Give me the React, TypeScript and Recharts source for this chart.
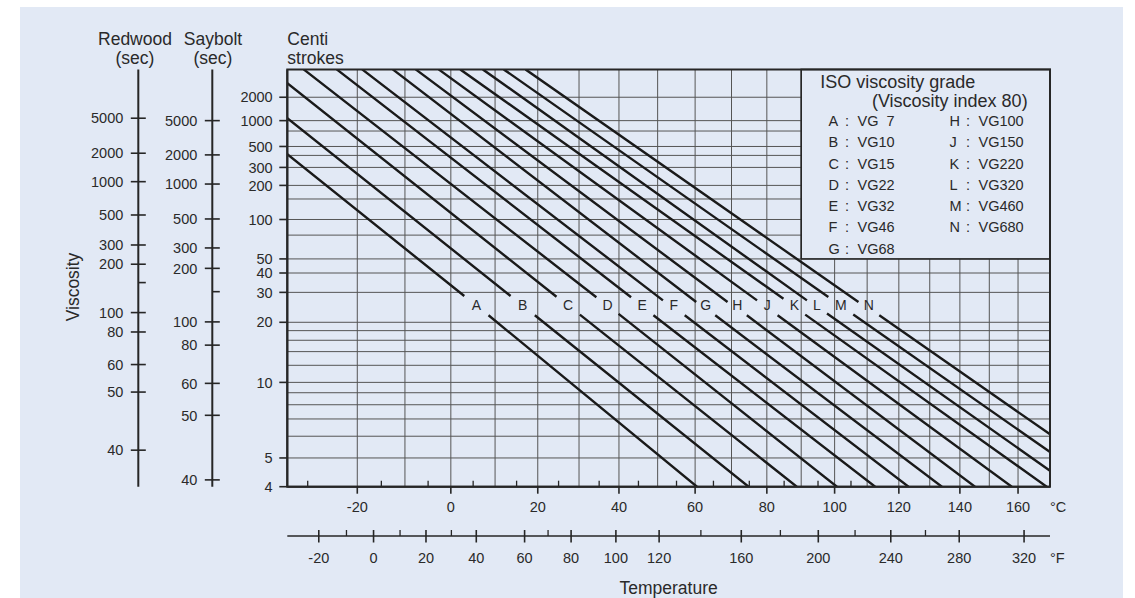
import React from "react";
import {
  ComposedChart,
  Line,
  Scatter,
  XAxis,
  YAxis,
  ReferenceLine,
  ReferenceArea,
} from "recharts";

const BG = "#e2e9f5";
const INK = "#262626";
const GRID = "#555";
const FONT = '"Liberation Sans", Arial, Helvetica, sans-serif';

// ISO viscosity grades, viscosity index 80
const gradeLetters = ["A", "B", "C", "D", "E", "F", "G", "H", "J", "K", "L", "M", "N"];
const gradeNames = ["VG  7", "VG10", "VG15", "VG22", "VG32", "VG46", "VG68", "VG100", "VG150", "VG220", "VG320", "VG460", "VG680"];

// each grade line: start, end above its letter, restart below it, end
const lineTemps = [
  [-34, 3.0, 8.5, 60.5],
  [-34, 13.6, 19.3, 74.8],
  [-34, 24.5, 30.2, 88.7],
  [-30.8, 34.3, 39.9, 100.7],
  [-24.2, 43.1, 48.9, 112.5],
  [-19.0, 51.4, 57.2, 123.1],
  [-12.6, 60.3, 65.5, 134.0],
  [-7.7, 68.9, 74.3, 145.1],
  [-2.7, 77.2, 83.1, 157.8],
  [2.1, 84.8, 91.2, 170.2],
  [7.2, 91.7, 97.7, 171.4],
  [12.0, 98.1, 105.7, 171.4],
  [17.1, 107.3, 113.8, 171.4],
];
const lineCst = [
  [411, 28.5, 21.9, 4],
  [1070, 28.5, 21.9, 4],
  [3127, 28.2, 22.1, 4],
  [5000, 28.0, 22.3, 4],
  [5000, 28.0, 21.9, 4],
  [5000, 26.8, 21.9, 4],
  [5000, 26.2, 21.9, 4],
  [5000, 26.2, 21.9, 4],
  [5000, 26.8, 21.9, 4],
  [5000, 27.4, 22.1, 4],
  [5000, 26.8, 22.4, 4.52],
  [5000, 28.1, 22.1, 5.25],
  [5000, 26.2, 21.9, 6.1],
];
const letterRowCst = 25; // the row of grade letters

const tempRange = [-34, 171.4]; // °C at the plot edges
const fahrRange = [-31.1, 336.6]; // °F at the ends of the lower scale
const cstRange = [4, 5000];

const cstTicks = [2000, 1000, 500, 300, 200, 100, 50, 40, 30, 20, 10, 5, 4];
const cstGrid = [2000, 1000, 750, 500, 400, 300, 200, 150, 100, 75, 50, 40, 30, 20, 18, 16, 14, 12, 10, 9, 8, 7, 6, 5];

// secondary scales: label and the centistokes it sits at ("" = unlabelled tick)
const sayboltLabels = ["5000", "2000", "1000", "500", "300", "200", "", "100", "80", "60", "50", "40"];
const sayboltCst = [1000, 405, 206, 101, 60, 43, 30.3, 20.1, 15.1, 9.9, 7.24, 4.21];
const redwoodLabels = ["5000", "2000", "1000", "500", "300", "200", "", "100", "80", "60", "50", "40"];
const redwoodCst = [1071, 422, 217, 109, 63.1, 45.9, 34.6, 22.7, 17.7, 12.1, 9.06, 5.33];

const celsiusTicks = [-20, 0, 20, 40, 60, 80, 100, 120, 140, 160];
const celsiusMinor = [-30, -15, -5, 5, 15, 25, 35, 45, 55, 65, 75, 85, 95, 105];
const celsiusGrid = [-20, -10, 0, 10, 20, 30, 40, 50, 60, 70, 80, 90, 100, 110, 120, 130, 140, 150, 160];
const fahrTicks = [-20, 0, 20, 40, 60, 80, 100, 120, 160, 200, 240, 280, 320];
const fahrMinor = [-10, 10, 30, 70, 140, 180, 220, 260];

// chart coordinates: absolute temperature on a log axis, log(log(cSt + 0.7)) on a linear one
const toK = (c: number) => c + 273.15;
const fToK = (f: number) => ((f - 32) * 5) / 9 + 273.15;
const fv = (v: number) => Math.log10(Math.log10(v + 0.7));

const lineData = gradeLetters.map((_, i) => {
  const t = lineTemps[i];
  const v = lineCst[i];
  return [
    { k: toK(t[0]), y: fv(v[0]) },
    { k: toK(t[1]), y: fv(v[1]) },
    { k: toK((t[1] + t[2]) / 2), y: null },
    { k: toK(t[2]), y: fv(v[2]) },
    { k: toK(t[3]), y: fv(v[3]) },
  ];
});

const letterData = gradeLetters.map((g, i) => ({
  k: Math.sqrt(toK(lineTemps[i][1]) * toK(lineTemps[i][2])),
  y: fv(letterRowCst),
  g,
}));

const cstTickY = cstTicks.map(fv);
const sayboltY = sayboltCst.map(fv);
const redwoodY = redwoodCst.map(fv);

const textStyle = { fontFamily: FONT, fill: "#2a2a2a" };

function nearest(values: number[], v: number) {
  let best = 0;
  values.forEach((w, i) => {
    if (Math.abs(w - v) < Math.abs(values[best] - v)) best = i;
  });
  return best;
}

const CstTick = (props: any) => {
  const { x, y, payload } = props;
  const i = nearest(cstTickY, payload.value);
  return (
    <g>
      <line x1={x - 8} x2={x} y1={y} y2={y} stroke={INK} strokeWidth={1.6} />
      <text x={x - 14.6} y={y + 5.2} textAnchor="end" fontSize={14.5} style={textStyle}>
        {cstTicks[i]}
      </text>
    </g>
  );
};

const ScaleTick = (props: any) => {
  const { x, y, payload, labels, values } = props;
  const label = labels[nearest(values, payload.value)];
  if (!label) {
    return <line x1={x} x2={x + 7.5} y1={y} y2={y} stroke={INK} strokeWidth={1.6} />;
  }
  return (
    <g>
      <line x1={x - 7.5} x2={x + 7.5} y1={y} y2={y} stroke={INK} strokeWidth={1.6} />
      <text x={x - 15} y={y + 5.2} textAnchor="end" fontSize={14.5} style={textStyle}>
        {label}
      </text>
    </g>
  );
};

const CelsiusTick = (props: any) => {
  const { x, y, payload } = props;
  const c = Math.round(payload.value - 273.15);
  if (!celsiusTicks.includes(c)) {
    return <line x1={x} x2={x} y1={y} y2={y - 6} stroke={INK} strokeWidth={1.3} />;
  }
  return (
    <g>
      <line x1={x} x2={x} y1={y} y2={y + 7} stroke={INK} strokeWidth={1.6} />
      <text x={x} y={y + 25.2} textAnchor="middle" fontSize={14.5} style={textStyle}>
        {c}
      </text>
    </g>
  );
};

const FahrTick = (props: any) => {
  const { x, y, payload } = props;
  const f = Math.round(((payload.value - 273.15) * 9) / 5 + 32);
  if (!fahrTicks.includes(f)) {
    return <line x1={x} x2={x} y1={y} y2={y - 6} stroke={INK} strokeWidth={1.3} />;
  }
  return (
    <g>
      <line x1={x} x2={x} y1={y - 6} y2={y + 6.5} stroke={INK} strokeWidth={1.6} />
      <text x={x} y={y + 26.5} textAnchor="middle" fontSize={14.5} style={textStyle}>
        {f}
      </text>
    </g>
  );
};

const AxisTitle = (props: any) => {
  const vb = props.viewBox || { x: 0, y: 0, width: 0, height: 0 };
  const ax = vb.x + vb.width + (props.dx || 0);
  return (
    <g>
      {props.lines.map((t: string, i: number) => (
        <text
          key={t}
          x={ax}
          y={vb.y - 24.4 + i * 18.7}
          textAnchor={props.anchor || "middle"}
          fontSize={17.5}
          style={textStyle}
        >
          {t}
        </text>
      ))}
      {props.side ? (
        <text
          transform={`translate(${vb.x + 79}, ${vb.y + 217.6}) rotate(-90)`}
          textAnchor="middle"
          fontSize={17.5}
          style={textStyle}
        >
          {props.side}
        </text>
      ) : null}
    </g>
  );
};

const UnitLabel = (props: any) => {
  const vb = props.viewBox || { x: 0, y: 0, width: 0, height: 0 };
  return (
    <g>
      <text x={vb.x + vb.width} y={vb.y + props.base} fontSize={14.5} style={textStyle}>
        {props.text}
      </text>
      {props.title ? (
        <text x={vb.x + vb.width / 2} y={vb.y + 58} textAnchor="middle" fontSize={17.5} style={textStyle}>
          {props.title}
        </text>
      ) : null}
    </g>
  );
};

const LetterMark = (props: any) => {
  const { cx, cy, payload } = props;
  return (
    <text x={cx} y={cy + 5} textAnchor="middle" fontSize={14} style={textStyle}>
      {payload.g}
    </text>
  );
};

const LegendBox = (props: any) => {
  const { x, y, width, height } = props;
  return (
    <g>
      <rect x={x} y={y} width={width} height={height} fill={BG} stroke={INK} strokeWidth={1.6} />
      <text x={x + 19} y={y + 19} fontSize={18} style={textStyle}>
        ISO viscosity grade
      </text>
      <text x={x + 70.7} y={y + 37.3} fontSize={18} style={textStyle}>
        (Viscosity index 80)
      </text>
      {gradeLetters.map((g, i) => {
        const col = i < 7 ? 0 : 1;
        const row = col ? i - 7 : i;
        const bx = x + (col ? 148.3 : 27.3);
        const by = y + 56.8 + row * 21.22;
        return (
          <g key={g}>
            <text x={bx} y={by} fontSize={14.5} style={textStyle}>
              {g}
            </text>
            <text x={bx + 18.4} y={by} textAnchor="middle" fontSize={14.5} style={textStyle}>
              :
            </text>
            <text x={bx + 29} y={by} fontSize={14.5} style={{ ...textStyle, whiteSpace: "pre" }}>
              {gradeNames[i]}
            </text>
          </g>
        );
      })}
    </g>
  );
};

export default function App() {
  const yDomain = [fv(cstRange[0]), fv(cstRange[1])];
  const xDomain = [toK(tempRange[0]), toK(tempRange[1])];
  return (
    <div style={{ position: "absolute", left: 0, top: 0, width: 1135, height: 598, background: "#fff" }}>
      <div style={{ position: "absolute", left: 20, top: 7, width: 1103, height: 591, background: BG }} />
      <div style={{ position: "absolute", left: 0, top: 0 }}>
        <ComposedChart width={1135} height={598} margin={{ top: 69.4, right: 85, bottom: 22, left: 0 }}>
          <XAxis
            xAxisId="c"
            dataKey="k"
            type="number"
            scale="log"
            domain={xDomain}
            allowDataOverflow
            ticks={[...celsiusTicks, ...celsiusMinor].map(toK)}
            interval={0}
            tickSize={0}
            tickMargin={0}
            tickLine={false}
            tick={<CelsiusTick />}
            height={49.3}
            axisLine={{ stroke: INK, strokeWidth: 2 }}
            label={<UnitLabel text="°C" base={25.2} />}
          />
          <XAxis
            xAxisId="f"
            dataKey="k"
            type="number"
            scale="log"
            domain={[fToK(fahrRange[0]), fToK(fahrRange[1])]}
            allowDataOverflow
            ticks={[...fahrTicks, ...fahrMinor].map(fToK)}
            interval={0}
            tickSize={0}
            tickMargin={0}
            tickLine={false}
            tick={<FahrTick />}
            height={40}
            axisLine={{ stroke: INK, strokeWidth: 1.6 }}
            label={<UnitLabel text="°F" base={26.5} title="Temperature" />}
          />
          <YAxis
            yAxisId="a_cst"
            dataKey="y"
            type="number"
            domain={yDomain}
            allowDataOverflow
            ticks={cstTickY}
            interval={0}
            width={75}
            tickSize={0}
            tickMargin={0}
            tickLine={false}
            tick={<CstTick />}
            axisLine={{ stroke: INK, strokeWidth: 2 }}
            label={<AxisTitle lines={["Centi", "strokes"]} anchor="start" />}
          />
          <YAxis
            yAxisId="b_saybolt"
            type="number"
            domain={yDomain}
            allowDataOverflow
            ticks={sayboltY}
            interval={0}
            width={74}
            tickSize={0}
            tickMargin={0}
            tickLine={false}
            tick={<ScaleTick labels={sayboltLabels} values={sayboltY} />}
            axisLine={{ stroke: INK, strokeWidth: 2 }}
            label={<AxisTitle lines={["Saybolt", "(sec)"]} dx={0.7} />}
          />
          <YAxis
            yAxisId="c_redwood"
            type="number"
            domain={yDomain}
            allowDataOverflow
            ticks={redwoodY}
            interval={0}
            width={138.3}
            tickSize={0}
            tickMargin={0}
            tickLine={false}
            tick={<ScaleTick labels={redwoodLabels} values={redwoodY} />}
            axisLine={{ stroke: INK, strokeWidth: 2 }}
            label={<AxisTitle lines={["Redwood", "(sec)"]} dx={-3.3} side="Viscosity" />}
          />

          {celsiusGrid.map((c) => (
            <ReferenceLine
              key={`vx${c}`}
              xAxisId="c"
              yAxisId="a_cst"
              x={toK(c)}
              stroke={GRID}
              strokeWidth={1}
              ifOverflow="visible"
              zIndex={-100}
            />
          ))}
          {cstGrid.map((v) => (
            <ReferenceLine
              key={`hy${v}`}
              xAxisId="c"
              yAxisId="a_cst"
              y={fv(v)}
              stroke={GRID}
              strokeWidth={1}
              ifOverflow="visible"
              zIndex={-100}
            />
          ))}

          {lineData.map((d, i) => (
            <Line
              key={gradeLetters[i]}
              xAxisId="c"
              yAxisId="a_cst"
              data={d}
              dataKey="y"
              type="linear"
              stroke="#1a1a1a"
              strokeWidth={2.4}
              dot={false}
              activeDot={false}
              isAnimationActive={false}
            />
          ))}

          <Scatter
            xAxisId="c"
            yAxisId="a_cst"
            data={letterData}
            dataKey="y"
            shape={<LetterMark />}
            isAnimationActive={false}
          />

          <ReferenceArea
            xAxisId="c"
            yAxisId="a_cst"
            x1={toK(90)}
            x2={xDomain[1]}
            y1={fv(50)}
            y2={yDomain[1]}
            ifOverflow="visible"
            shape={<LegendBox />}
            zIndex={1500}
          />
          <ReferenceArea
            xAxisId="c"
            yAxisId="a_cst"
            x1={xDomain[0]}
            x2={xDomain[1]}
            y1={yDomain[0]}
            y2={yDomain[1]}
            ifOverflow="visible"
            fill="none"
            stroke={INK}
            strokeWidth={2}
            zIndex={1600}
          />
        </ComposedChart>
      </div>
    </div>
  );
}
